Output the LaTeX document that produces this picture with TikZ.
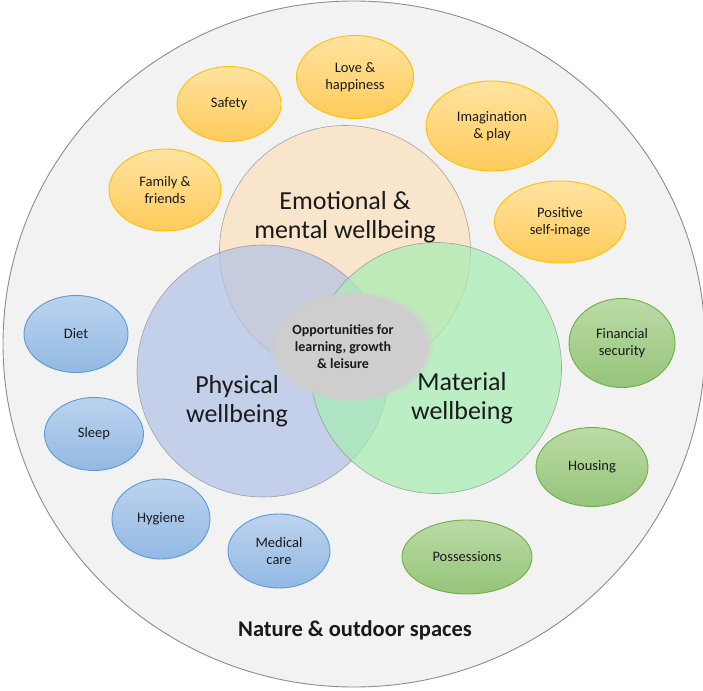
\documentclass[tikz,border=0pt]{standalone}
\usepackage{fontspec}
\setmainfont{Carlito}
\usetikzlibrary{shapes.geometric,fadings}
\definecolor{bgfill}{HTML}{F2F2F2}
\definecolor{bgline}{HTML}{8C8C8C}
\definecolor{orTop}{HTML}{FFE3A0}
\definecolor{orBot}{HTML}{FFCB5A}
\definecolor{orLine}{HTML}{FFC000}
\definecolor{blTop}{HTML}{BCD3EE}
\definecolor{blBot}{HTML}{92B9E3}
\definecolor{blLine}{HTML}{5B9BD5}
\definecolor{grTop}{HTML}{BBDBA5}
\definecolor{grBot}{HTML}{95C47A}
\definecolor{grLine}{HTML}{70AD47}
\definecolor{emoFill}{HTML}{FBE0BC}
\definecolor{phyFill}{HTML}{B3C2E6}
\definecolor{matFill}{HTML}{A8EDB3}
\definecolor{oppFill}{HTML}{CECECE}
\definecolor{txt}{HTML}{1A1A1A}
\tikzset{
  smallov/.style={ellipse, draw, line width=0.9pt, align=center, text=txt,
     font=\fontsize{14.5}{17.5}\selectfont, inner sep=0pt},
  orov/.style={smallov, draw=orLine, top color=orTop, bottom color=orBot},
  blov/.style={smallov, draw=blLine, top color=blTop, bottom color=blBot},
  grov/.style={smallov, draw=grLine, top color=grTop, bottom color=grBot},
  bigc/.style={circle, draw=bgline, line width=0.6pt, fill opacity=0.72, draw opacity=0.75, inner sep=0pt},
  bigtxt/.style={align=center, text=txt, font=\fontsize{26}{29}\selectfont},
}
\begin{document}
\begin{tikzpicture}[x=1pt,y=-1pt]
\useasboundingbox (0,0) rectangle (703,690);
% outer circle
\node[ellipse, draw=bgline, fill=bgfill, line width=0.9pt, minimum width=702pt, minimum height=686pt, inner sep=0pt] (outer) at (354,344) {};
% orange
\node[orov, minimum width=104pt, minimum height=75pt] (safety) at (229,104) {Safety};
\node[orov, minimum width=117pt, minimum height=83pt] (love) at (355,77) {Love \&\\happiness};
\node[orov, minimum width=132pt, minimum height=90pt] (imag) at (492,126) {Imagination\\\& play};
\node[orov, minimum width=112pt, minimum height=82pt] (family) at (165,190) {Family \&\\friends};
\node[orov, minimum width=131pt, minimum height=82pt] (selfimg) at (560,222) {Positive\\self-image};
% blue
\node[blov, minimum width=104pt, minimum height=77pt] (diet) at (76,334) {Diet};
\node[blov, minimum width=99pt, minimum height=73pt] (sleep) at (94,434) {Sleep};
\node[blov, minimum width=98pt, minimum height=80pt] (hygiene) at (161,519) {Hygiene};
\node[blov, minimum width=102pt, minimum height=74pt] (medical) at (279,551) {Medical\\care};
% green
\node[grov, minimum width=106pt, minimum height=89pt] (finance) at (622,343) {Financial\\security};
\node[grov, minimum width=112pt, minimum height=79pt] (housing) at (592,467) {Housing};
\node[grov, minimum width=130pt, minimum height=74pt] (possess) at (467,557) {Possessions};
% big circles
\node[bigc, fill=emoFill, minimum size=251pt] (emo) at (345,251) {};
\node[bigc, fill=phyFill, minimum size=252pt] (phy) at (263,371) {};
\node[bigc, fill=matFill, minimum size=251pt] (mat) at (436,368) {};
% centre fuzzy ellipse
\fill[oppFill, path fading=circle with fuzzy edge 10 percent] (351,346) ellipse (83 and 56);
\node[align=center, text=txt, font=\bfseries\fontsize{14}{17}\selectfont] (opp) at (343,347) {Opportunities for\\learning, growth\\\& leisure};
% big labels
\node[bigtxt] (emol) at (345,217) {Emotional \&\\mental wellbeing};
\node[bigtxt] (phyl) at (237,401) {Physical\\wellbeing};
\node[bigtxt] (matl) at (462,398) {Material\\wellbeing};
% bottom
\node[text=txt, font=\bfseries\fontsize{22.5}{26}\selectfont] (nature) at (355,630) {Nature \& outdoor spaces};
\end{tikzpicture}
\end{document}
